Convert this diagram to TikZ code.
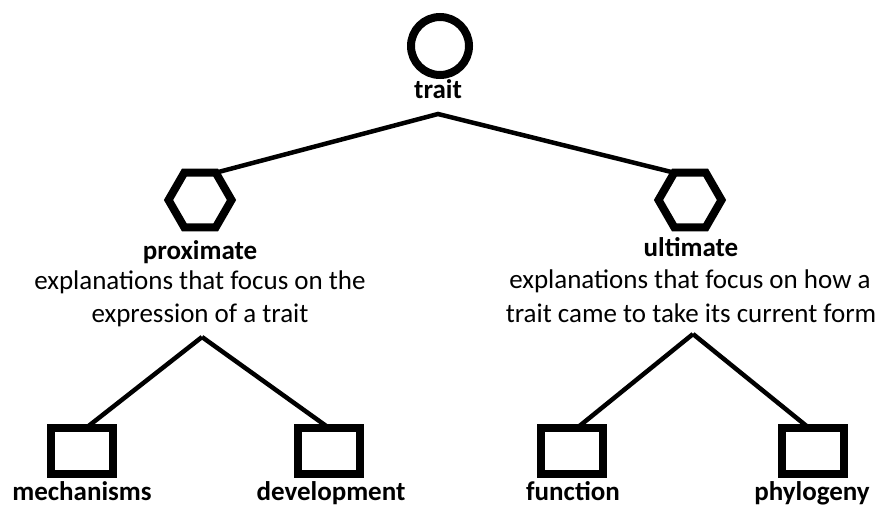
\documentclass[tikz,border=0pt]{standalone}
\usepackage{fontspec}
\setmainfont{Carlito}
\usetikzlibrary{shapes.geometric}
\begin{document}
\begin{tikzpicture}[x=1pt,y=-1pt,
  shapeline/.style={draw=black,line width=8pt,inner sep=0pt,outer sep=0pt},
  topcircle/.style={shapeline,circle,minimum size=58pt},
  hexa/.style={shapeline,regular polygon,regular polygon sides=6,minimum size=63pt},
  boxshape/.style={shapeline,rectangle,minimum width=62pt,minimum height=46pt},
  conn/.style={draw=black,line width=4.5pt},
  title/.style={font=\fontsize{27}{33}\selectfont\bfseries,anchor=base,inner sep=0pt},
  desc/.style={font=\fontsize{27}{33}\selectfont,anchor=base,inner sep=0pt}]
\useasboundingbox (0,0) rectangle (882,506);
% shapes
\node[topcircle] (trait) at (440,46) {};
\node[hexa] (hexL) at (200,200) {};
\node[hexa] (hexR) at (690,200) {};
\node[boxshape] (mech) at (82,451) {};
\node[boxshape] (dev) at (329,451) {};
\node[boxshape] (func) at (572,451) {};
\node[boxshape] (phyl) at (813,451) {};
% junctions
\coordinate (jtop) at (438,114);
\coordinate (jleft) at (202,337);
\coordinate (jright) at (693,334);
% connectors
\draw[conn] (hexL.60) -- (jtop) -- (hexR.120);
\draw[conn] (mech.north) ++(4,0) -- (jleft);
\draw[conn] (jleft) -- (dev.north);
\draw[conn] (func.north) ++(5,0) -- (jright);
\draw[conn] (jright) -- ([xshift=-4pt]phyl.north);
% labels
\node[title] (traitT) at (438,98) {trait};
\node[title] (proxT) at (200,259) {proximate};
\node[desc] (proxD1) at (200,289) {explanations that focus on the};
\node[desc] (proxD2) at (200,322) {expression of a trait};
\node[title] (ultT) at (691,256) {ultimate};
\node[desc] (ultD1) at (690,288) {explanations that focus on how a};
\node[desc] (ultD2) at (691,322) {trait came to take its current form};
\node[title] (mechT) at (82,500) {mechanisms};
\node[title] (devT) at (331,500) {development};
\node[title] (funcT) at (573,500) {function};
\node[title] (phylT) at (812,500) {phylogeny};
\end{tikzpicture}
\end{document}
